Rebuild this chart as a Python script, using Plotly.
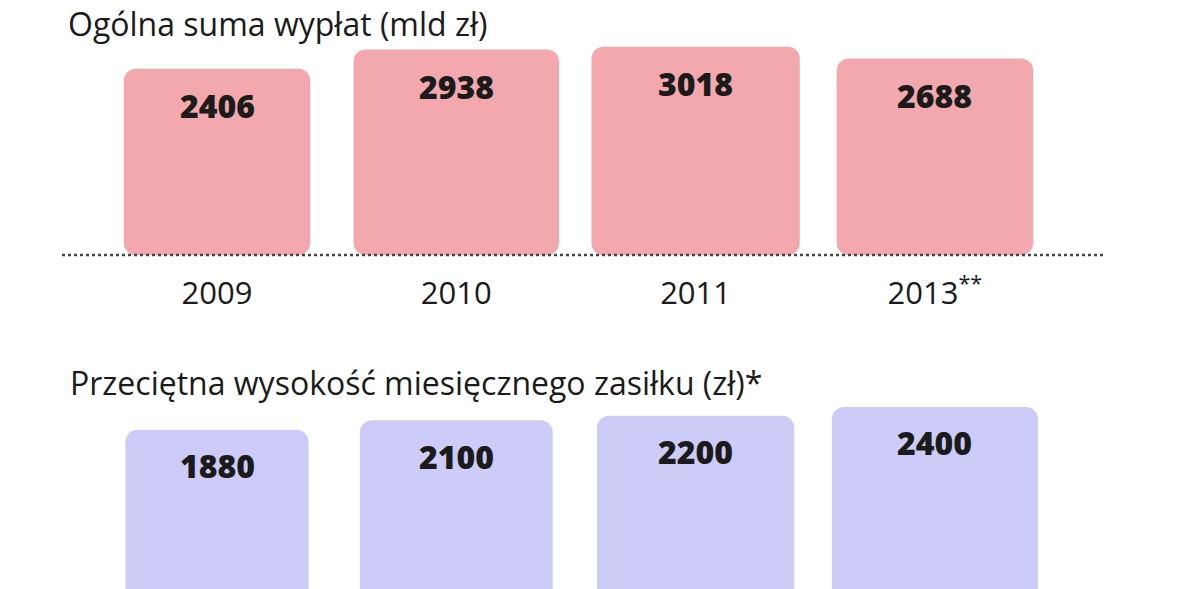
import plotly.graph_objects as go

# data
years = ["2009", "2010", "2011", "2013<sup>**</sup>"]
total_payouts = [2406, 2938, 3018, 2688]      # mld zł
avg_allowance = [1880, 2100, 2200, 2400]      # zł

# the page puts the figure 8px in from the top-left corner
OFF = 8
W, H = 1200 - OFF, 589 - OFF
PX_PER_CAT = 239.3          # horizontal pixels per category step
X_LEFT = (217 - OFF) / PX_PER_CAT
X_RANGE = [-X_LEFT, -X_LEFT + W / PX_PER_CAT]

# bars are drawn as squares: side grows with the value, from an offset base
TOP_BASE, TOP_K = -2770, 0.036       # px per unit, top panel
BOT_BASE, BOT_K = -2282, 0.044       # px per unit, bottom panel

PINK = "#F2A8AC"
LAVENDER = "#CDCBF8"
INK = "#1b1b1b"
FONT = "Open Sans"


def widths(values, base, k):
    return [(v - base) * k / PX_PER_CAT for v in values]


fig = go.Figure()

fig.add_trace(go.Bar(
    x=years, y=[v - TOP_BASE for v in total_payouts], base=TOP_BASE,
    width=widths(total_payouts, TOP_BASE, TOP_K),
    marker=dict(color=PINK, cornerradius=12, line_width=0),
    hoverinfo="skip", xaxis="x", yaxis="y",
))
fig.add_trace(go.Bar(
    x=years, y=[v - BOT_BASE for v in avg_allowance], base=BOT_BASE,
    width=widths(avg_allowance, BOT_BASE, BOT_K),
    marker=dict(color=LAVENDER, cornerradius=12, line_width=0),
    hoverinfo="skip", xaxis="x2", yaxis="y2",
))

value_font = dict(family=FONT, size=32, color=INK, weight=800)
annotations = []
# category positions by index, since "2009" etc. would be read as numbers
for i, v in enumerate(total_payouts):
    annotations.append(dict(x=i, y=v, xref="x", yref="y", text=str(v), showarrow=False,
                            yshift=-37, font=value_font))
for i, v in enumerate(avg_allowance):
    annotations.append(dict(x=i, y=v, xref="x2", yref="y2", text=str(v), showarrow=False,
                            yshift=-36, font=value_font))

title_font = dict(family=FONT, size=32, color=INK)
annotations.append(dict(x=(66 - OFF) / W, y=1 - (23 - OFF) / H, xref="paper", yref="paper",
                        xanchor="left", yanchor="middle", showarrow=False,
                        text="Ogólna suma wypłat (mld zł)", font=title_font))
annotations.append(dict(x=(68 - OFF) / W, y=1 - (382 - OFF) / H, xref="paper", yref="paper",
                        xanchor="left", yanchor="middle", showarrow=False,
                        text="Przeciętna wysokość miesięcznego zasiłku (zł)*",
                        font=title_font))

top_h = 255 - OFF
top_span = top_h / TOP_K
bot_top, bot_below = 400 - OFF, 24
bot_lo = BOT_BASE + bot_below / BOT_K
bot_hi = BOT_BASE + (H - bot_top + bot_below) / BOT_K

fig.update_layout(
    width=W, height=H,
    margin=dict(l=0, r=0, t=0, b=0),
    paper_bgcolor="white", plot_bgcolor="white",
    showlegend=False, barmode="overlay",
    annotations=annotations,
    xaxis=dict(domain=[0, 1], range=X_RANGE, type="category", categoryarray=years,
               showgrid=False, zeroline=False, showline=False, ticks="",
               ticklabelstandoff=17, tickfont=dict(family=FONT, size=31, color=INK),
               anchor="y"),
    yaxis=dict(domain=[1 - top_h / H, 1], range=[TOP_BASE, TOP_BASE + top_span],
               visible=False),
    xaxis2=dict(domain=[0, 1], range=X_RANGE, type="category", categoryarray=years,
                visible=False, anchor="y2"),
    yaxis2=dict(domain=[0, 1 - bot_top / H], range=[bot_lo, bot_hi], visible=False),
    shapes=[dict(type="line", xref="paper", yref="paper",
                 x0=(62 - OFF) / W, x1=(1103 - OFF) / W,
                 y0=1 - top_h / H, y1=1 - top_h / H,
                 line=dict(color="#444444", width=2.5, dash="dot"))],
)

fig.write_html("out.html")
